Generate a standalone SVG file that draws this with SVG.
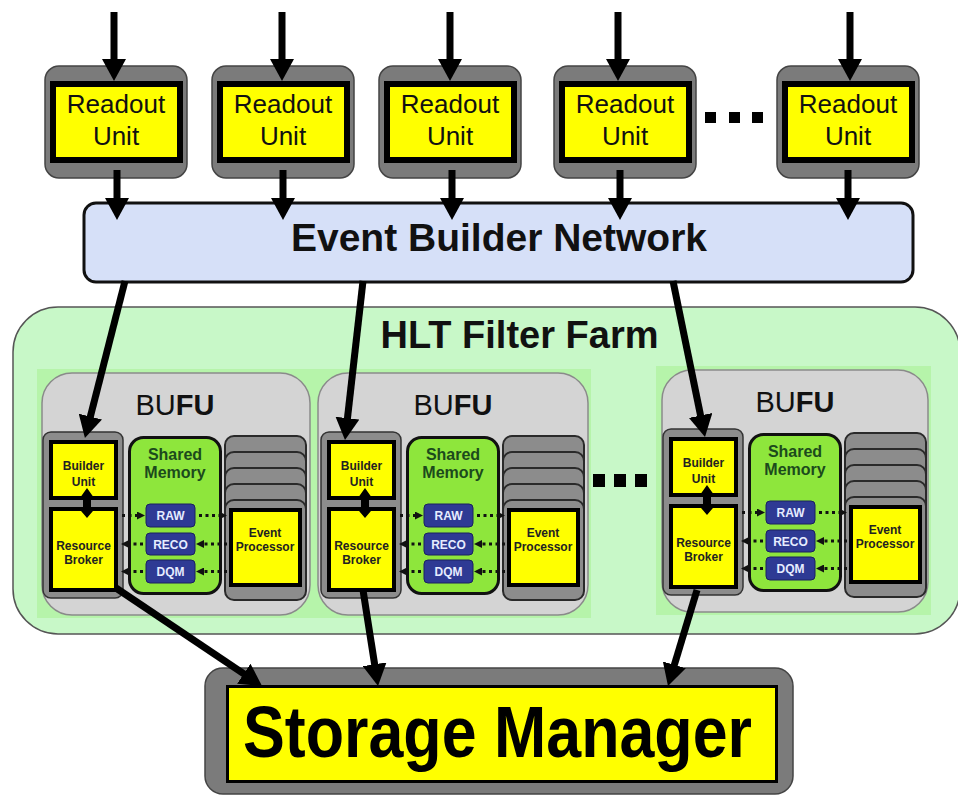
<svg xmlns="http://www.w3.org/2000/svg" width="958" height="796" viewBox="0 0 958 796">
<defs>
<style>
.t{font-family:"Liberation Sans",Arial,sans-serif;text-anchor:middle}
.ru{fill:#7b7b7b;stroke:#444;stroke-width:1.5}
.yb{fill:#ffff00;stroke:#000;stroke-width:4}
.yb6{fill:#ffff00;stroke:#000;stroke-width:6}
.ru-t{font-size:26px;fill:#111}
.bufu{fill:#d4d4d4;stroke:#8a8a8a;stroke-width:1.5}
.bd{fill:#b6f4aa}
.col{fill:#8c8c8c;stroke:#333;stroke-width:1.5}
.lay{fill:#8c8c8c;stroke:#2a2a2a;stroke-width:2}
.sm{fill:#8ee63c;stroke:#111;stroke-width:3}
.sm-t{font-size:16px;font-weight:bold;fill:#1c4a1c}
.q{fill:#2e3a94;stroke:#1a2060;stroke-width:1}
.q-t{font-size:12px;font-weight:bold;fill:#e6ecff}
.s-t{font-size:12px;font-weight:bold;fill:#222}
.conn{stroke:#000;stroke-width:7;fill:none}
.dot{stroke:#111;stroke-width:3;stroke-dasharray:3 3.5;fill:none}
.sq{fill:#000}
</style>
<marker id="ah" markerUnits="userSpaceOnUse" viewBox="0 0 22 24" markerWidth="22" markerHeight="24" refX="14" refY="12" orient="auto"><path d="M0,0 L22,12 L0,24 z" fill="#000"/></marker>
<marker id="sa" markerUnits="userSpaceOnUse" viewBox="0 0 8 8" markerWidth="8" markerHeight="8" refX="1" refY="4" orient="auto"><path d="M0,0 L8,4 L0,8 z" fill="#111"/></marker>
</defs>
<rect width="958" height="796" fill="#fff"/>

<!-- HLT Filter Farm -->
<g id="farm">
<rect x="13" y="307" width="947" height="327" rx="45" fill="#c8f8c8" stroke="#555" stroke-width="1.5"/>
<text class="t" x="519.5" y="348" font-size="38" font-weight="bold" fill="#111">HLT Filter Farm</text>
<rect class="bd" x="37" y="369" width="280" height="249"/>
<rect class="bd" x="314" y="369" width="277" height="249"/>
<rect class="bd" x="656" y="366" width="275" height="249"/>
</g>

<!-- BUFU 1 -->
<g id="bufu1" transform="translate(42,373)">
<rect class="bufu" x="0" y="0" width="268" height="242" rx="30"/>
<text class="t" x="133" y="42" font-size="29" fill="#111">BU<tspan font-weight="bold">FU</tspan></text>
<g id="bufu1-left">
<rect class="col" x="1" y="59" width="80" height="166" rx="8"/>
<rect class="yb" x="9" y="69" width="65" height="56"/>
<rect class="yb" x="9" y="136" width="65" height="81"/>
<polygon points="45,115 53.5,127 49,127 49,135 53.5,135 45,145 36.5,135 41,135 41,127 36.5,127" fill="#000"/>
<text class="t s-t" x="41.5" y="97">Builder</text><text class="t s-t" x="41.5" y="113">Unit</text>
<text class="t s-t" x="41.5" y="177">Resource</text><text class="t s-t" x="41.5" y="191">Broker</text>
</g>
<g id="bufu1-sm">
<rect class="sm" x="87.5" y="64.5" width="91" height="156" rx="14"/>
<text class="t sm-t" x="133" y="87">Shared</text><text class="t sm-t" x="133" y="105">Memory</text>
<rect class="q" x="104" y="131" width="49" height="23" rx="4"/><text class="t q-t" x="128.5" y="147">RAW</text>
<rect class="q" x="104" y="160" width="49" height="22" rx="4"/><text class="t q-t" x="128.5" y="175.5">RECO</text>
<rect class="q" x="104" y="187" width="49" height="23" rx="4"/><text class="t q-t" x="128.5" y="203">DQM</text>
</g>
<g id="bufu1-ep">
<rect class="lay" x="183" y="63" width="81" height="100" rx="9"/>
<rect class="lay" x="183" y="79" width="81" height="100" rx="9"/>
<rect class="lay" x="183" y="95" width="81" height="100" rx="9"/>
<rect class="lay" x="183" y="111" width="81" height="100" rx="9"/>
<rect class="lay" x="183" y="127" width="81" height="100" rx="9"/>
<rect class="yb" x="189" y="137" width="69" height="75"/>
<text class="t s-t" x="223" y="164">Event</text><text class="t s-t" x="223" y="178">Processor</text>
</g>
<g class="dots">
<line class="dot" x1="80" y1="142.5" x2="96" y2="142.5" marker-end="url(#sa)"/>
<line class="dot" x1="157" y1="142.5" x2="178" y2="142.5" marker-end="url(#sa)"/>
<line class="dot" x1="185" y1="171" x2="161" y2="171" marker-end="url(#sa)"/>
<line class="dot" x1="101" y1="171" x2="86" y2="171" marker-end="url(#sa)"/>
<line class="dot" x1="185" y1="198.5" x2="161" y2="198.5" marker-end="url(#sa)"/>
<line class="dot" x1="101" y1="198.5" x2="86" y2="198.5" marker-end="url(#sa)"/>
</g>
</g>

<!-- BUFU 2 -->
<g id="bufu2" transform="translate(320,373)">
<rect class="bufu" x="-2" y="0" width="270" height="242" rx="30"/>
<text class="t" x="133" y="42" font-size="29" fill="#111">BU<tspan font-weight="bold">FU</tspan></text>
<g id="bufu2-left">
<rect class="col" x="1" y="59" width="80" height="166" rx="8"/>
<rect class="yb" x="9" y="69" width="65" height="56"/>
<rect class="yb" x="9" y="136" width="65" height="81"/>
<polygon points="45,115 53.5,127 49,127 49,135 53.5,135 45,145 36.5,135 41,135 41,127 36.5,127" fill="#000"/>
<text class="t s-t" x="41.5" y="97">Builder</text><text class="t s-t" x="41.5" y="113">Unit</text>
<text class="t s-t" x="41.5" y="177">Resource</text><text class="t s-t" x="41.5" y="191">Broker</text>
</g>
<g id="bufu2-sm">
<rect class="sm" x="87.5" y="64.5" width="91" height="156" rx="14"/>
<text class="t sm-t" x="133" y="87">Shared</text><text class="t sm-t" x="133" y="105">Memory</text>
<rect class="q" x="104" y="131" width="49" height="23" rx="4"/><text class="t q-t" x="128.5" y="147">RAW</text>
<rect class="q" x="104" y="160" width="49" height="22" rx="4"/><text class="t q-t" x="128.5" y="175.5">RECO</text>
<rect class="q" x="104" y="187" width="49" height="23" rx="4"/><text class="t q-t" x="128.5" y="203">DQM</text>
</g>
<g id="bufu2-ep">
<rect class="lay" x="183" y="63" width="81" height="100" rx="9"/>
<rect class="lay" x="183" y="79" width="81" height="100" rx="9"/>
<rect class="lay" x="183" y="95" width="81" height="100" rx="9"/>
<rect class="lay" x="183" y="111" width="81" height="100" rx="9"/>
<rect class="lay" x="183" y="127" width="81" height="100" rx="9"/>
<rect class="yb" x="189" y="137" width="69" height="75"/>
<text class="t s-t" x="223" y="164">Event</text><text class="t s-t" x="223" y="178">Processor</text>
</g>
<g class="dots">
<line class="dot" x1="80" y1="142.5" x2="96" y2="142.5" marker-end="url(#sa)"/>
<line class="dot" x1="157" y1="142.5" x2="178" y2="142.5" marker-end="url(#sa)"/>
<line class="dot" x1="185" y1="171" x2="161" y2="171" marker-end="url(#sa)"/>
<line class="dot" x1="101" y1="171" x2="86" y2="171" marker-end="url(#sa)"/>
<line class="dot" x1="185" y1="198.5" x2="161" y2="198.5" marker-end="url(#sa)"/>
<line class="dot" x1="101" y1="198.5" x2="86" y2="198.5" marker-end="url(#sa)"/>
</g>
</g>

<!-- BUFU 3 -->
<g id="bufu3" transform="translate(662,370)">
<rect class="bufu" x="0" y="0" width="266" height="242" rx="30"/>
<text class="t" x="133" y="42" font-size="29" fill="#111">BU<tspan font-weight="bold">FU</tspan></text>
<g id="bufu3-left">
<rect class="col" x="1" y="59" width="80" height="166" rx="8"/>
<rect class="yb" x="9" y="69" width="65" height="56"/>
<rect class="yb" x="9" y="136" width="65" height="81"/>
<polygon points="45,115 53.5,127 49,127 49,135 53.5,135 45,145 36.5,135 41,135 41,127 36.5,127" fill="#000"/>
<text class="t s-t" x="41.5" y="97">Builder</text><text class="t s-t" x="41.5" y="113">Unit</text>
<text class="t s-t" x="41.5" y="177">Resource</text><text class="t s-t" x="41.5" y="191">Broker</text>
</g>
<g id="bufu3-sm">
<rect class="sm" x="87.5" y="64.5" width="91" height="156" rx="14"/>
<text class="t sm-t" x="133" y="87">Shared</text><text class="t sm-t" x="133" y="105">Memory</text>
<rect class="q" x="104" y="131" width="49" height="23" rx="4"/><text class="t q-t" x="128.5" y="147">RAW</text>
<rect class="q" x="104" y="160" width="49" height="22" rx="4"/><text class="t q-t" x="128.5" y="175.5">RECO</text>
<rect class="q" x="104" y="187" width="49" height="23" rx="4"/><text class="t q-t" x="128.5" y="203">DQM</text>
</g>
<g id="bufu3-ep">
<rect class="lay" x="183" y="63" width="81" height="100" rx="9"/>
<rect class="lay" x="183" y="79" width="81" height="100" rx="9"/>
<rect class="lay" x="183" y="95" width="81" height="100" rx="9"/>
<rect class="lay" x="183" y="111" width="81" height="100" rx="9"/>
<rect class="lay" x="183" y="127" width="81" height="100" rx="9"/>
<rect class="yb" x="189" y="137" width="69" height="75"/>
<text class="t s-t" x="223" y="164">Event</text><text class="t s-t" x="223" y="178">Processor</text>
</g>
<g class="dots">
<line class="dot" x1="80" y1="142.5" x2="96" y2="142.5" marker-end="url(#sa)"/>
<line class="dot" x1="157" y1="142.5" x2="178" y2="142.5" marker-end="url(#sa)"/>
<line class="dot" x1="185" y1="171" x2="161" y2="171" marker-end="url(#sa)"/>
<line class="dot" x1="101" y1="171" x2="86" y2="171" marker-end="url(#sa)"/>
<line class="dot" x1="185" y1="198.5" x2="161" y2="198.5" marker-end="url(#sa)"/>
<line class="dot" x1="101" y1="198.5" x2="86" y2="198.5" marker-end="url(#sa)"/>
</g>
</g>

<g id="ellipsis-bufu">
<rect class="sq" x="593" y="474" width="12" height="13"/>
<rect class="sq" x="614" y="474" width="12" height="13"/>
<rect class="sq" x="635" y="474" width="12" height="13"/>
</g>

<!-- Event Builder Network -->
<g id="ebn">
<rect x="84" y="203" width="829" height="79" rx="12" fill="#d6e0f8" stroke="#111" stroke-width="3"/>
<text class="t" x="499" y="251" font-size="39" font-weight="bold" fill="#111">Event Builder Network</text>
</g>

<!-- Readout Units -->
<g id="ru1"><rect class="ru" x="45" y="66" width="142" height="112" rx="14"/><rect class="yb6" x="53" y="84" width="127" height="76"/><text class="t ru-t" x="116" y="113">Readout</text><text class="t ru-t" x="116" y="145">Unit</text></g>
<g id="ru2"><rect class="ru" x="212" y="66" width="142" height="112" rx="14"/><rect class="yb6" x="220" y="84" width="127" height="76"/><text class="t ru-t" x="283" y="113">Readout</text><text class="t ru-t" x="283" y="145">Unit</text></g>
<g id="ru3"><rect class="ru" x="379" y="66" width="142" height="112" rx="14"/><rect class="yb6" x="387" y="84" width="127" height="76"/><text class="t ru-t" x="450" y="113">Readout</text><text class="t ru-t" x="450" y="145">Unit</text></g>
<g id="ru4"><rect class="ru" x="554" y="66" width="142" height="112" rx="14"/><rect class="yb6" x="562" y="84" width="127" height="76"/><text class="t ru-t" x="625" y="113">Readout</text><text class="t ru-t" x="625" y="145">Unit</text></g>
<g id="ru5"><rect class="ru" x="777" y="66" width="142" height="112" rx="14"/><rect class="yb6" x="785" y="84" width="127" height="76"/><text class="t ru-t" x="848" y="113">Readout</text><text class="t ru-t" x="848" y="145">Unit</text></g>
<g id="ellipsis-ru">
<rect class="sq" x="705" y="112" width="11" height="11"/>
<rect class="sq" x="729" y="112" width="11" height="11"/>
<rect class="sq" x="752" y="112" width="11" height="11"/>
</g>

<!-- Storage Manager -->
<g id="sm">
<rect x="205" y="668" width="588" height="126" rx="18" fill="#7b7b7b" stroke="#444" stroke-width="1.5"/>
<rect x="227.5" y="686.5" width="549" height="95" fill="#ffff00" stroke="#000" stroke-width="3"/>
<text class="t" x="497.5" y="757" font-size="72" font-weight="bold" fill="#000" textLength="509" lengthAdjust="spacingAndGlyphs">Storage Manager</text>
</g>

<!-- Connectors -->
<g id="connectors">
<line class="conn" x1="114" y1="12" x2="114" y2="73" marker-end="url(#ah)"/>
<line class="conn" x1="282" y1="12" x2="282" y2="73" marker-end="url(#ah)"/>
<line class="conn" x1="450" y1="12" x2="450" y2="73" marker-end="url(#ah)"/>
<line class="conn" x1="618" y1="12" x2="618" y2="73" marker-end="url(#ah)"/>
<line class="conn" x1="850" y1="12" x2="850" y2="73" marker-end="url(#ah)"/>
<line class="conn" x1="117" y1="170" x2="117" y2="212" marker-end="url(#ah)"/>
<line class="conn" x1="283" y1="170" x2="283" y2="212" marker-end="url(#ah)"/>
<line class="conn" x1="452" y1="170" x2="452" y2="212" marker-end="url(#ah)"/>
<line class="conn" x1="620" y1="170" x2="620" y2="212" marker-end="url(#ah)"/>
<line class="conn" x1="848" y1="170" x2="848" y2="212" marker-end="url(#ah)"/>
<line class="conn" x1="125" y1="281" x2="86.9" y2="430.2" marker-end="url(#ah)"/>
<line class="conn" x1="363" y1="281" x2="345.9" y2="432" marker-end="url(#ah)"/>
<line class="conn" x1="673" y1="281" x2="703.4" y2="429.2" marker-end="url(#ah)"/>
<line class="conn" x1="116" y1="588" x2="255.4" y2="681.5" marker-end="url(#ah)"/>
<line class="conn" x1="363" y1="590" x2="376.8" y2="678.1" marker-end="url(#ah)"/>
<line class="conn" x1="697" y1="590" x2="670.3" y2="678.3" marker-end="url(#ah)"/>
</g>
</svg>
